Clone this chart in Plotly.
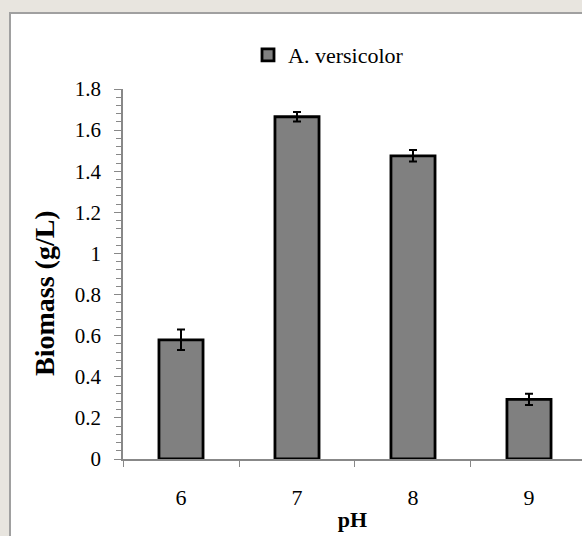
import plotly.graph_objects as go

ph = ["6", "7", "8", "9"]
biomass = [0.58, 1.665, 1.475, 0.29]
err = [0.05, 0.023, 0.028, 0.027]
series_name = "A. versicolor"

W, H = 582, 536
L, T, B = 123, 89, 77
pw = W - L
ph_px = H - T - B

fig = go.Figure()
fig.add_trace(go.Bar(
    x=ph, y=biomass, name=series_name,
    width=0.38,
    marker=dict(color="#808080", line=dict(color="black", width=2.8)),
    error_y=dict(type="data", array=err, visible=True, color="black",
                 thickness=2, width=4),
    showlegend=True,
))

def px_x(p):
    return (p - L) / pw

def px_y(p):
    return (H - B - p) / ph_px

fig.update_layout(
    width=W, height=H,
    margin=dict(l=L, r=0, t=T, b=B, pad=0),
    paper_bgcolor="#e8e5df",
    plot_bgcolor="rgba(0,0,0,0)",
    font=dict(family="Liberation Serif", color="black", size=20),
    showlegend=True,
    legend=dict(x=px_x(248), y=px_y(55), xanchor="left", yanchor="middle",
                font=dict(size=22, family="Liberation Serif"),
                bgcolor="rgba(0,0,0,0)"),
    bargap=0.6,
    shapes=[dict(type="rect", xref="paper", yref="paper", layer="below",
                 x0=px_x(10), x1=px_x(640), y0=px_y(600), y1=px_y(13),
                 fillcolor="white", line=dict(color="#a0a0a0", width=2))],
    annotations=[dict(text="<b>Biomass (g/L)</b>", textangle=-90,
                      xref="paper", yref="paper", x=px_x(44), y=px_y(293),
                      xanchor="center", yanchor="middle", showarrow=False,
                      font=dict(size=28, family="Liberation Serif"))],
)
fig.update_xaxes(
    type="category", range=[-0.5, 3.457],
    tickson="boundaries", ticks="outside", ticklen=6, tickcolor="#888888",
    showline=True, linecolor="#888888", linewidth=1.5,
    showgrid=False, zeroline=False,
    tickfont=dict(size=22), ticklabelstandoff=18,
    title=dict(text="<b>pH</b>", font=dict(size=22), standoff=2),
)
fig.update_yaxes(
    range=[0, 1.8], dtick=0.2, tick0=0, ticks="outside", ticklen=7,
    tickcolor="#888888", showline=True, linecolor="#888888", linewidth=1.5,
    showgrid=False, zeroline=False, tickformat="~g",
    ticklabelstandoff=9, tickfont=dict(size=21),
    minor=dict(dtick=0.04, ticks="outside", ticklen=5, tickcolor="#888888", showgrid=False),
)

fig.write_html("out.html")
